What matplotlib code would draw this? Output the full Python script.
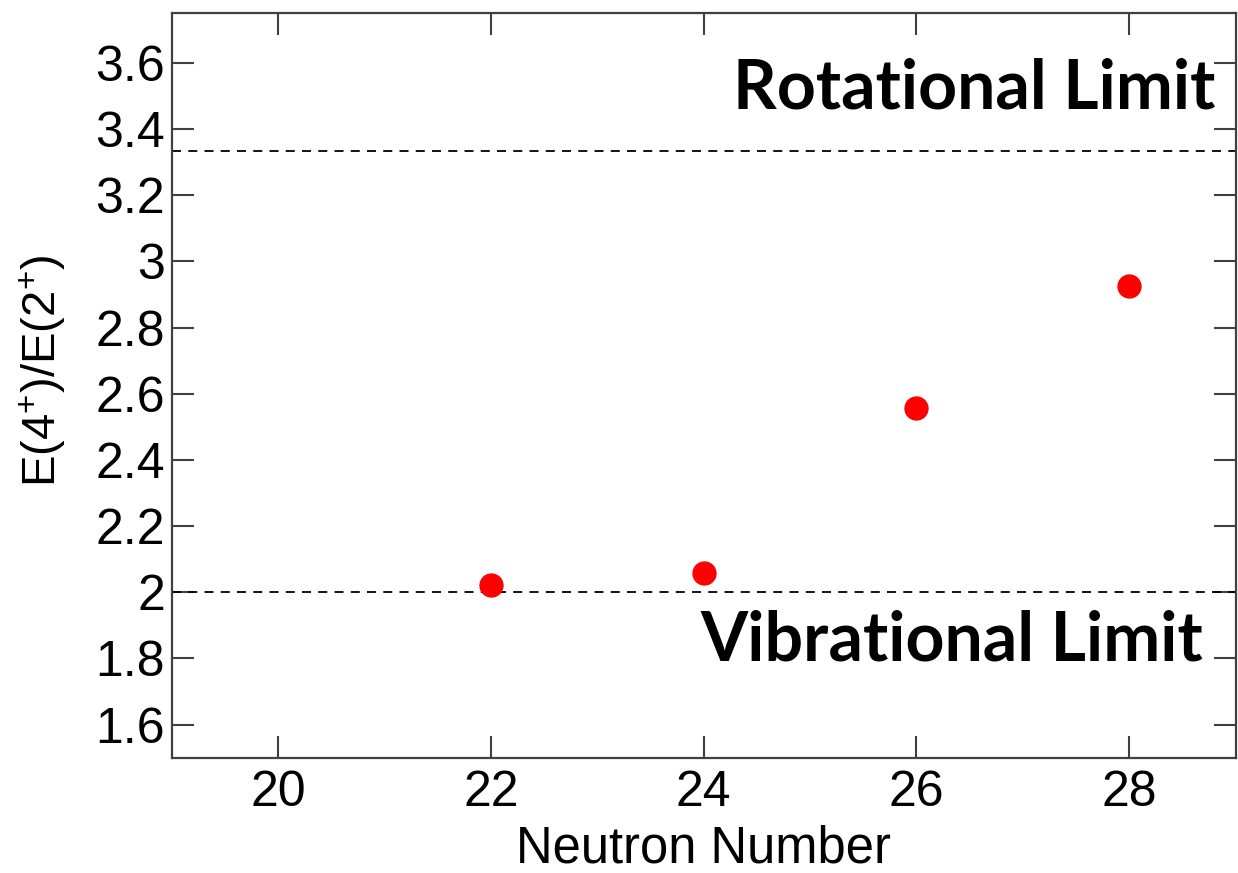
import matplotlib.pyplot as plt

plt.rcParams['font.family'] = ['Liberation Sans', 'DejaVu Sans']
plt.rcParams['mathtext.default'] = 'regular'

# data
neutrons = [22, 24, 26, 28]
ratio = [2.023, 2.059, 2.558, 2.926]
vib_limit = 2.0
rot_limit = 10.0 / 3.0

edge = '#404040'

fig = plt.figure(figsize=(12.38, 8.73), dpi=100)
ax = fig.add_axes([0.139, 0.132, 0.859, 0.853])

ax.axhline(vib_limit, color='black', lw=1.3, ls=(0, (5, 4)))
ax.axhline(rot_limit, color='black', lw=1.3, ls=(0, (5, 4)))
ax.plot(neutrons, ratio, 'o', color='red', ms=16.5, mec='red', zorder=3)

ax.set_xlim(19, 29)
ax.set_ylim(1.5, 3.75)
ax.set_xticks([20, 22, 24, 26, 28])
ax.set_yticks([1.6, 1.8, 2.0, 2.2, 2.4, 2.6, 2.8, 3.0, 3.2, 3.4, 3.6])
ax.set_yticklabels(['1.6', '1.8', '2', '2.2', '2.4', '2.6', '2.8', '3', '3.2', '3.4', '3.6'])

ax.tick_params(direction='in', length=16, width=1.5, color=edge, labelsize=36,
               top=True, right=True)
ax.tick_params(axis='x', pad=9)
ax.tick_params(axis='y', pad=5)
for s in ax.spines.values():
    s.set_color(edge)
    s.set_linewidth(1.6)

ax.set_xlabel('Neutron Number', fontsize=36.5, labelpad=6)
ax.set_ylabel('E(4$^{+}$)/E(2$^{+}$)', fontsize=34, labelpad=20)
ax.yaxis.label.set_y(0.52)

ax.text(28.81, 3.461, 'Rotational Limit', fontsize=49, fontweight='bold',
        family=['Lato', 'DejaVu Sans'], ha='right', va='baseline')
ax.text(28.70, 1.793, 'Vibrational Limit', fontsize=49, fontweight='bold',
        family=['Lato', 'DejaVu Sans'], ha='right', va='baseline')

plt.savefig('out.png', dpi=100)
